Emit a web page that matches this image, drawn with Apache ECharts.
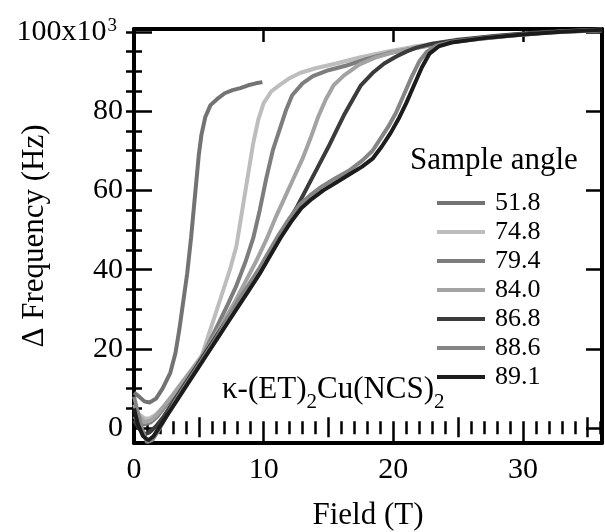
<!DOCTYPE html>
<html>
<head>
<meta charset="utf-8">
<script src="https://cdn.jsdelivr.net/npm/echarts/dist/echarts.min.js"></script>
<style>
  html, body { margin: 0; padding: 0; background: #fff; }
  #chart { width: 605px; height: 532px; }
</style>
</head>
<body>
<div id="chart"></div>
<script>
// sample angles (legend) and colours
var angles = ['51.8', '74.8', '79.4', '84.0', '86.8', '88.6', '89.1'];
var grays = ['#737373', '#bdbdbd', '#7d7d7d', '#a3a3a3', '#3b3b3b', '#858585', '#1c1c1c'];

// [field (T), delta frequency (x10^3 Hz)]
var a518 = [[0,9],[0.4,8],[0.8,6.8],[1.2,6.5],[1.7,7.5],[2.2,10],[2.8,14],[3.2,19],[3.5,25],[3.8,32],[4.1,39],[4.4,48],[4.6,55],[4.8,62],[5.0,69],[5.2,74],[5.5,78.5],[5.9,81.5],[6.4,83],[7.0,84.5],[7.6,85.3],[8.2,85.8],[8.8,86.5],[9.4,87],[9.9,87.3]];
var a748 = [[0,5],[0.4,3.5],[0.8,2.5],[1.2,2.5],[1.7,3.5],[2.3,5.5],[3,8],[3.8,11],[4.6,14.5],[5.2,18],[5.8,24],[6.3,29],[6.8,34],[7.4,40],[7.9,46],[8.2,52],[8.5,58],[8.8,64],[9.2,72],[9.6,78],[10,82],[10.6,85],[11.2,86.5],[12,88.3],[12.8,89.6],[14,90.8],[15.6,92],[17.4,93.5],[19.5,95],[21.5,96.2],[23.5,97.2],[26,98.2],[29,99.2],[32,99.9],[36.1,100.4]];
var a794 = [[0,3],[0.4,1.5],[0.8,1],[1.3,1.5],[1.8,3],[2.4,5.5],[3,8],[3.8,11.5],[4.6,15],[5.4,19],[6,23],[6.6,27],[7.2,31],[7.9,36],[8.6,42],[9.2,48],[9.7,55],[10.2,63],[10.7,70],[11.2,75],[11.7,80],[12.2,84],[13,87],[13.8,88.8],[15,90.3],[16.4,91.5],[17.8,93],[19.5,94.5],[21.5,95.8],[23.5,97],[26,98],[29,99],[32,99.8],[36.1,100.4]];
var a840 = [[0,6],[0.4,3],[0.8,1.5],[1.3,2],[1.8,3.5],[2.4,6],[3,8.5],[3.8,12],[4.6,15.5],[5.4,19],[6.2,23],[7,27.5],[7.8,32],[8.6,37],[9.4,42],[10.2,47.5],[10.9,53],[11.6,58],[12.3,63],[13,68],[13.6,73],[14.2,78.5],[14.8,83],[15.4,86.5],[16.2,89],[17.4,91.8],[18.6,93.5],[20,94.8],[21.5,95.8],[23.5,97],[26,98],[29,99],[32,99.9],[36.1,100.5]];
var a868 = [[0,2],[0.4,0],[0.8,-1.5],[1.2,-1],[1.7,0.5],[2.3,3],[3,6.5],[3.8,10.5],[4.6,14.5],[5.4,18.5],[6.2,22.5],[7,26.5],[7.8,30.5],[8.6,34.5],[9.4,38.5],[10.2,42.5],[11,47],[11.8,51.5],[12.6,56],[13.4,61],[14.2,66],[15,71],[15.6,75],[16.2,79],[16.8,82.5],[17.5,86.5],[18.4,89.6],[19.3,92],[20.2,93.7],[21,95],[21.8,96],[23,97],[25,98],[28,99],[31,99.8],[34,100.3],[36.1,100.6]];
var a886 = [[0,8],[0.3,4],[0.6,0],[1,-3.5],[1.4,-3],[1.9,-0.5],[2.5,3],[3.2,7],[4,11],[4.8,15],[5.6,19],[6.4,23],[7.2,27.5],[8,32],[8.8,36],[9.6,40],[10.4,44.5],[11.2,49],[12,53],[12.8,56.5],[13.6,58.8],[14.5,61],[15.5,63],[16.6,65],[17.6,67.5],[18.4,70],[19,73],[19.6,76],[20.2,79.5],[20.8,84],[21.4,88.5],[22,92.5],[22.6,95],[23.3,96.5],[24.5,97.5],[27,98.5],[30,99.4],[33,100.1],[36.1,100.6]];
var a891 = [[0,5],[0.3,1],[0.7,-2],[1.1,-3],[1.5,-2],[2,0.5],[2.6,3.5],[3.3,7],[4.1,11],[4.9,15],[5.7,19],[6.5,23],[7.3,27],[8.1,31],[8.9,35],[9.7,39],[10.5,43.5],[11.3,48],[12.1,52],[12.9,55.5],[13.7,57.8],[14.6,60],[15.6,62],[16.6,64],[17.6,66],[18.4,68],[19.1,71],[19.8,74.5],[20.4,78],[21,82],[21.6,86.5],[22.2,91],[22.8,94.5],[23.5,96.3],[24.5,97.3],[27,98.4],[30,99.3],[33,100],[36.1,100.5]];
var curves = [a518, a748, a794, a840, a868, a886, a891];

// tick values
var xMajor = [0, 10, 20, 30];
var xMid = [5, 15, 25, 35];
var xMinor = Array.from({length: 36}, function (d, i) { return i + 1; });
var yMajor = [0, 20, 40, 60, 80, 100];
var yMinor = Array.from({length: 20}, function (d, i) { return i * 5 + 5; });

var X_MIN = 0, X_MAX = 36.1, Y_MIN = -3.7, Y_MAX = 100.7;
var serif = 'Liberation Serif';

function tickAxis(kind, pos, ticks, len, extra) {
  var ax = {
    type: 'value',
    position: pos,
    min: kind === 'x' ? X_MIN : Y_MIN,
    max: kind === 'x' ? X_MAX : Y_MAX,
    axisLine: { show: false },
    axisTick: { show: true, inside: true, length: len, customValues: ticks,
      lineStyle: { color: '#000', width: 2.5 } },
    axisLabel: { show: false },
    splitLine: { show: false }
  };
  return Object.assign(ax, extra || {});
}

var frameLine = { show: true, onZero: false, lineStyle: { color: '#000', width: 4 } };

var myChart = echarts.init(document.getElementById('chart'));
var option = {
  animation: false,
  backgroundColor: '#fff',
  title: {
    text: 'Sample angle',
    left: 405,
    top: 140,
    textStyle: { fontFamily: serif, fontSize: 31, fontWeight: 'normal', color: '#000' }
  },
  legend: {
    orient: 'vertical',
    left: 432,
    top: 185,
    icon: 'rect',
    itemWidth: 48,
    itemHeight: 4,
    itemGap: 3,
    data: angles,
    textStyle: { fontFamily: serif, fontSize: 26, lineHeight: 26, color: '#000', padding: [0, 0, 0, 5] }
  },
  grid: { left: 134, right: 3, top: 29, bottom: 89, containLabel: false, outerBoundsMode: 'none' },
  xAxis: [
    tickAxis('x', 'bottom', xMajor, 16, {
      axisLine: frameLine,
      axisLabel: { show: true, customValues: xMajor, margin: 12,
        fontFamily: serif, fontSize: 30, color: '#000' },
      name: 'Field (T)',
      nameLocation: 'middle',
      nameGap: 57,
      nameMoveOverlap: false,
      nameTextStyle: { fontFamily: serif, fontSize: 31, color: '#000' }
    }),
    tickAxis('x', 'bottom', xMid, 11),
    tickAxis('x', 'bottom', xMinor, 7),
    tickAxis('x', 'top', xMajor, 13, { axisLine: frameLine }),
    tickAxis('x', 'top', xMid, 9),
    tickAxis('x', 'top', xMinor, 6)
  ],
  yAxis: [
    tickAxis('y', 'left', yMajor, 18, {
      axisLine: frameLine,
      axisLabel: {
        show: true, customValues: yMajor, margin: 11,
        fontFamily: serif, fontSize: 30, color: '#000',
        formatter: function (v) {
          return v === 100 ? '{m|100x10}{s|3}' : String(v);
        },
        rich: {
          m: { fontFamily: serif, fontSize: 30, lineHeight: 30, padding: [8, 0, 8, 0], color: '#000' },
          s: { fontFamily: serif, fontSize: 19, lineHeight: 19, verticalAlign: 'top', padding: [0, 6, 0, 1], color: '#000' }
        }
      },
      name: 'Δ Frequency (Hz)',
      nameLocation: 'middle',
      nameGap: 84,
      nameMoveOverlap: false,
      nameTextStyle: { fontFamily: serif, fontSize: 31, color: '#000' }
    }),
    tickAxis('y', 'left', yMinor, 8),
    tickAxis('y', 'right', yMajor, 16, { axisLine: frameLine }),
    tickAxis('y', 'right', yMinor, 8)
  ],
  graphic: [{
    type: 'text',
    left: 222,
    top: 374,
    style: {
      text: '{m|κ-(ET)}{s|2}{m|Cu(NCS)}{s|2}',
      rich: {
        m: { fontFamily: serif, fontSize: 31, lineHeight: 31, verticalAlign: 'top', fill: '#000' },
        s: { fontFamily: serif, fontSize: 21, lineHeight: 21, padding: [18, 0, 0, 0], verticalAlign: 'top', fill: '#000' }
      }
    }
  }],
  series: angles.map(function (name, i) {
    return {
      name: name,
      type: 'line',
      xAxisIndex: 0,
      yAxisIndex: 0,
      showSymbol: false,
      symbol: 'none',
      color: grays[i],
      lineStyle: { width: 4, color: grays[i] },
      data: curves[i]
    };
  })
};
myChart.setOption(option);
</script>
</body>
</html>
